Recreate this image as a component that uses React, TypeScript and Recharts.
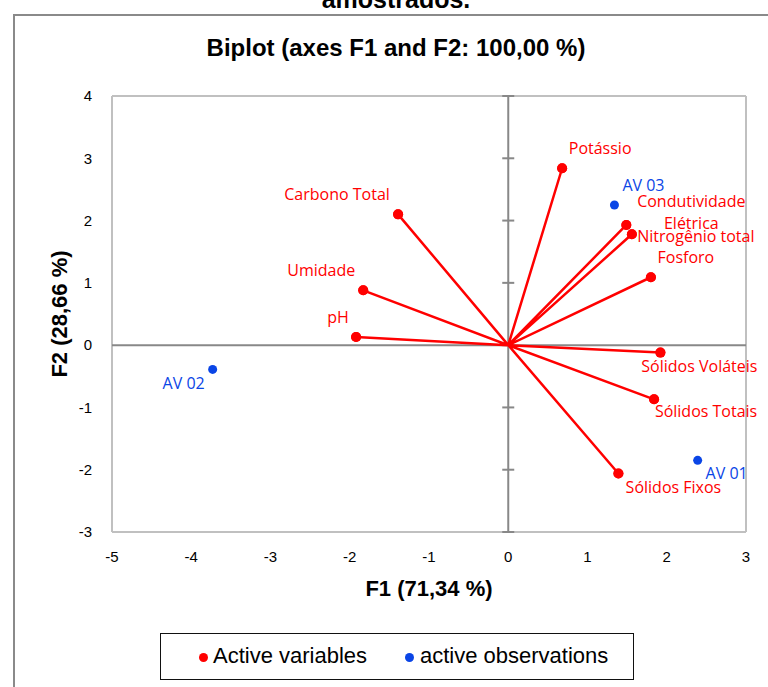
import {
  ScatterChart,
  Scatter,
  XAxis,
  YAxis,
  ReferenceLine,
  LabelList,
} from "recharts";

const xTicks = [-5, -4, -3, -2, -1, 0, 1, 2, 3];
const yTicks = [-3, -2, -1, 0, 1, 2, 3, 4];

const varNames = [
  "Potássio",
  "Condutividade Elétrica",
  "Nitrogênio total",
  "Fosforo",
  "Sólidos Voláteis",
  "Sólidos Totais",
  "Sólidos Fixos",
  "Carbono Total",
  "Umidade",
  "pH",
];
const varF1 = [0.68, 1.49, 1.56, 1.8, 1.92, 1.84, 1.39, -1.39, -1.83, -1.92];
const varF2 = [2.84, 1.93, 1.78, 1.09, -0.12, -0.87, -2.06, 2.1, 0.88, 0.13];

const obsNames = ["AV 01", "AV 02", "AV 03"];
const obsF1 = [2.39, -3.73, 1.34];
const obsF2 = [-1.85, -0.39, 2.25];

// label placement (px offset from the point, text centre)
const labelOffsets: Record<string, [number, number]> = {
  "Potássio": [38, -20],
  "Condutividade Elétrica": [65, -24],
  "Nitrogênio total": [64, 2],
  "Fosforo": [35, -20],
  "Sólidos Voláteis": [39, 13],
  "Sólidos Totais": [52, 12],
  "Sólidos Fixos": [55, 14],
  "Carbono Total": [-61, -20],
  "Umidade": [-42, -20],
  "pH": [-18, -20],
  "AV 01": [29, 13],
  "AV 02": [-29, 14],
  "AV 03": [29, -20],
};

const RED = "#ff0000";
const BLUE = "#0a45e6";
const LABEL_FONT = "'Open Sans', sans-serif";
const LABEL_SIZE = 16;
const ARIAL = "'Liberation Sans', Arial, sans-serif";

const variables = varNames.map((name, i) => ({ name, x: varF1[i], y: varF2[i] }));
const observations = obsNames.map((name, i) => ({ name, x: obsF1[i], y: obsF2[i] }));

// origin -> v1 -> origin -> v2 ... draws every vector as one polyline
const vectorPath = variables.flatMap((v) => [
  { name: "", x: 0, y: 0 },
  { name: v.name, x: v.x, y: v.y },
]);

const makeLabel = (color: string) => (props: any) => {
  const { x, y, width, height, value } = props;
  const cx = x + width / 2;
  const cy = y + height / 2;
  const off = labelOffsets[value] || [0, 0];
  const common = {
    fill: color,
    fontSize: LABEL_SIZE,
    fontFamily: LABEL_FONT,
    textAnchor: "middle" as const,
    dominantBaseline: "central" as const,
  };
  if (value === "Condutividade Elétrica") {
    return (
      <g>
        <text x={cx + off[0]} y={cy + off[1]} {...common}>
          Condutividade
        </text>
        <text x={cx + off[0]} y={cy + off[1] + 22} {...common}>
          Elétrica
        </text>
      </g>
    );
  }
  return (
    <text x={cx + off[0]} y={cy + off[1]} {...common}>
      {value}
    </text>
  );
};

const ZeroAxis = (props: any) => {
  const { x1, y1, x2, y2 } = props;
  const top = Math.min(y1, y2);
  const bottom = Math.max(y1, y2);
  const yMax = yTicks[yTicks.length - 1];
  const yMin = yTicks[0];
  return (
    <g>
      <line x1={x1} y1={top} x2={x2} y2={bottom} stroke="#888" strokeWidth={2} />
      {yTicks.map((t) => {
        const py = top + ((yMax - t) / (yMax - yMin)) * (bottom - top);
        return <line key={t} x1={x1 - 6} x2={x1 + 6} y1={py} y2={py} stroke="#888" strokeWidth={2} />;
      })}
    </g>
  );
};

const Dot = (color: string, r: number) => (props: any) => {
  const { cx, cy, payload } = props;
  if (!payload || payload.name === "") return <g />;
  return <circle cx={cx} cy={cy} r={r} fill={color} />;
};

export default function App() {
  return (
    <div style={{ position: "fixed", left: 0, top: 0, width: 768, height: 687, overflow: "hidden", background: "#fff" }}>
      <div
        style={{
          position: "absolute",
          left: 96,
          width: 600,
          top: -15,
          textAlign: "center",
          fontFamily: ARIAL,
          fontWeight: "bold",
          fontSize: 25,
          lineHeight: "28px",
        }}
      >
        amostrados.
      </div>
      <div style={{ position: "absolute", left: 13, top: 14, width: 800, height: 700, border: "2px solid #8a8a8a" }} />
      <div
        style={{
          position: "absolute",
          left: 96,
          width: 600,
          top: 34,
          textAlign: "center",
          fontFamily: ARIAL,
          fontWeight: "bold",
          fontSize: 24,
          lineHeight: "28px",
        }}
      >
        Biplot (axes F1 and F2: 100,00 %)
      </div>
      <div style={{ position: "absolute", left: 0, top: 0 }}>
        <ScatterChart width={768} height={687} margin={{ top: 96, right: 22, bottom: 125, left: 52 }}>
          <XAxis
            type="number"
            dataKey="x"
            domain={[-5, 3]}
            ticks={xTicks}
            allowDataOverflow
            axisLine={false}
            tickLine={false}
            tickSize={0}
            tickMargin={19}
            height={30}
            tick={{ fontSize: 15, fill: "#000", fontFamily: ARIAL }}
          />
          <YAxis
            type="number"
            dataKey="y"
            domain={[-3, 4]}
            ticks={yTicks}
            allowDataOverflow
            axisLine={false}
            tickLine={false}
            tickSize={0}
            tickMargin={20}
            width={60}
            tick={{ fontSize: 15, fill: "#000", fontFamily: ARIAL }}
          />
          <ReferenceLine x={-5} stroke="#c0c0c0" strokeWidth={2} />
          <ReferenceLine x={3} stroke="#c0c0c0" strokeWidth={2} />
          <ReferenceLine y={4} stroke="#c0c0c0" strokeWidth={2} />
          <ReferenceLine y={-3} stroke="#c0c0c0" strokeWidth={2} />
          <ReferenceLine y={0} stroke="#888" strokeWidth={2} />
          <ReferenceLine x={0} shape={ZeroAxis} />
          <Scatter
            data={vectorPath}
            line={{ stroke: RED, strokeWidth: 2.5 }}
            shape={Dot(RED, 5)}
            fill={RED}
            isAnimationActive={false}
          />
          <Scatter data={variables} fill={RED} shape={Dot(RED, 5)} isAnimationActive={false}>
            <LabelList dataKey="name" content={makeLabel(RED)} />
          </Scatter>
          <Scatter data={observations} fill={BLUE} shape={Dot(BLUE, 4.5)} isAnimationActive={false}>
            <LabelList dataKey="name" content={makeLabel(BLUE)} />
          </Scatter>
        </ScatterChart>
      </div>
      <div
        style={{
          position: "absolute",
          left: 229,
          width: 400,
          top: 576,
          textAlign: "center",
          fontFamily: ARIAL,
          fontWeight: "bold",
          fontSize: 22,
          lineHeight: "26px",
        }}
      >
        F1 (71,34 %)
      </div>
      <div
        style={{
          position: "absolute",
          left: 60 - 100,
          top: 314 - 13,
          width: 200,
          textAlign: "center",
          transform: "rotate(-90deg)",
          fontFamily: ARIAL,
          fontWeight: "bold",
          fontSize: 22,
          lineHeight: "26px",
        }}
      >
        F2 (28,66 %)
      </div>
      <div
        style={{
          position: "absolute",
          left: 160,
          top: 633,
          width: 472,
          height: 45,
          border: "1.5px solid #111",
          fontFamily: ARIAL,
          fontSize: 22,
        }}
      >
        <span style={{ position: "absolute", left: 38, top: 19, width: 9, height: 9, borderRadius: "50%", background: RED }} />
        <span style={{ position: "absolute", left: 52, top: 9, lineHeight: "26px" }}>Active variables</span>
        <span style={{ position: "absolute", left: 244, top: 19, width: 9, height: 9, borderRadius: "50%", background: BLUE }} />
        <span style={{ position: "absolute", left: 259, top: 9, lineHeight: "26px" }}>active observations</span>
      </div>
    </div>
  );
}
